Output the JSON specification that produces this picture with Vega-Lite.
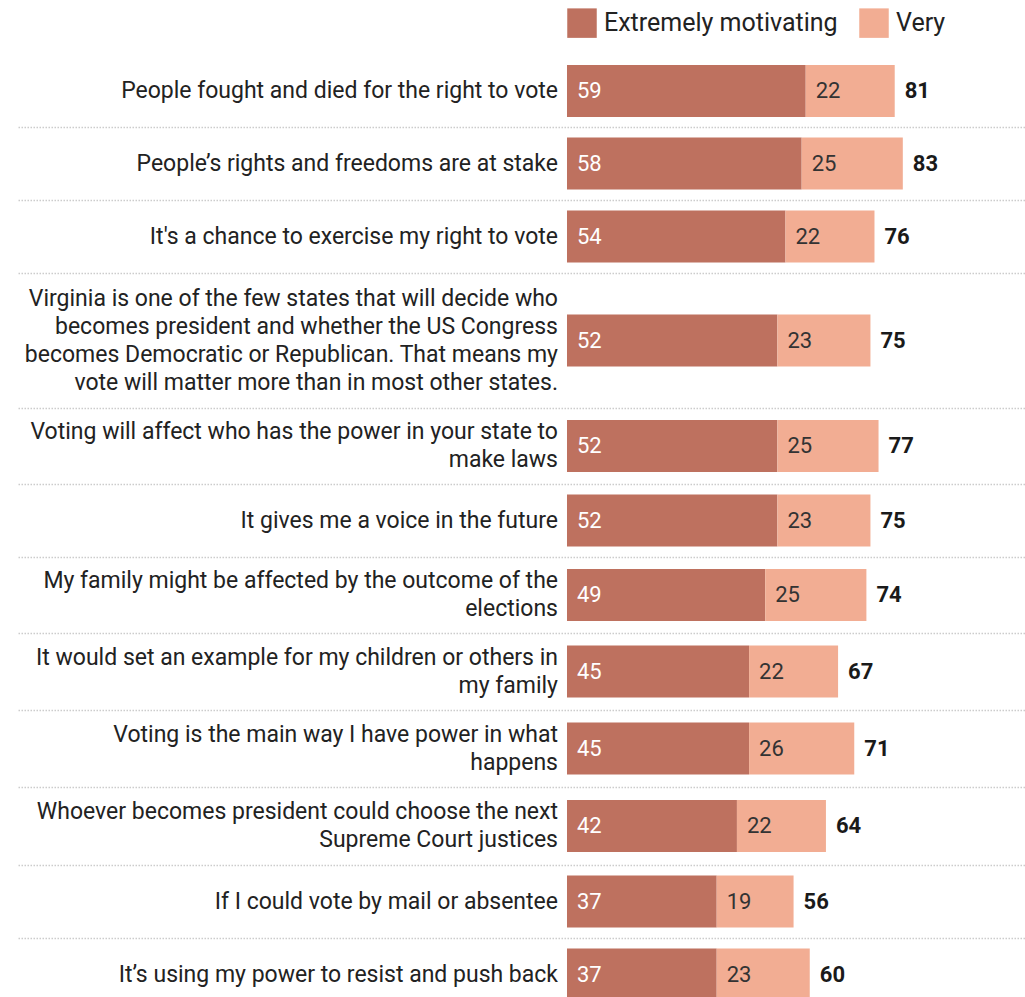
{
  "$schema": "https://vega.github.io/schema/vega-lite/v6.json",
  "padding": {"top": 8, "left": 18, "right": 0, "bottom": 0},
  "background": "white",
  "config": {
    "font": "Roboto",
    "view": {"stroke": null},
    "axisX": {"domainDash": [1.5, 1.5], "domainColor": "#cccccc", "domainWidth": 1.5, "labels": false, "ticks": false, "grid": false},
    "text": {"font": "Roboto", "fontSize": 22, "baseline": "middle"}
  },
  "data": {"values": [
    {"row": 1, "label": "People fought and died for the right to vote", "extreme": 59, "very": 22, "total": 81},
    {"row": 2, "label": "People’s rights and freedoms are at stake", "extreme": 58, "very": 25, "total": 83},
    {"row": 3, "label": "It's a chance to exercise my right to vote", "extreme": 54, "very": 22, "total": 76},
    {"row": 4, "label": "Virginia is one of the few states that will decide who|becomes president and whether the US Congress|becomes Democratic or Republican. That means my|vote will matter more than in most other states.", "extreme": 52, "very": 23, "total": 75},
    {"row": 5, "label": "Voting will affect who has the power in your state to|make laws", "extreme": 52, "very": 25, "total": 77},
    {"row": 6, "label": "It gives me a voice in the future", "extreme": 52, "very": 23, "total": 75},
    {"row": 7, "label": "My family might be affected by the outcome of the|elections", "extreme": 49, "very": 25, "total": 74},
    {"row": 8, "label": "It would set an example for my children or others in|my family", "extreme": 45, "very": 22, "total": 67},
    {"row": 9, "label": "Voting is the main way I have power in what|happens", "extreme": 45, "very": 26, "total": 71},
    {"row": 10, "label": "Whoever becomes president could choose the next|Supreme Court justices", "extreme": 42, "very": 22, "total": 64},
    {"row": 11, "label": "If I could vote by mail or absentee", "extreme": 37, "very": 19, "total": 56},
    {"row": 12, "label": "It’s using my power to resist and push back", "extreme": 37, "very": 23, "total": 60}
  ]},
  "vconcat": [
    {"width": 1007, "height": 72, "transform": [{"filter": "datum.row == 1"}], "layer": [
      {"transform": [{"fold": ["extreme", "very"], "as": ["cat", "value"]}], "mark": {"type": "bar", "height": 52},
       "encoding": {"y": {"field": "label", "type": "nominal", "axis": null}, "x": {"field": "value", "type": "quantitative", "stack": "zero", "scale": {"domain": [-135.69, 113.2], "nice": false}, "axis": {"title": null}}, "order": {"field": "cat"},
        "color": {"field": "cat", "type": "nominal", "scale": {"domain": ["extreme", "very"], "range": ["#BE715F", "#F2AD93"]},
          "legend": {"orient": "none", "legendX": 549, "legendY": -47, "direction": "horizontal", "title": null, "symbolType": "square", "symbolSize": 870, "symbolStrokeWidth": 0, "symbolOpacity": 1, "labelFontSize": 25, "labelColor": "#222", "labelOffset": 7, "columnPadding": 21, "labelLimit": 400, "labelExpr": "datum.value == 'extreme' ? 'Extremely motivating' : 'Very'"}}}},
      {"mark": {"type": "text", "align": "right", "dx": -9, "dy": 0, "fontSize": 23, "lineBreak": "|", "lineHeight": 28, "color": "#222"}, "encoding": {"y": {"field": "label", "type": "nominal", "axis": null}, "x": {"datum": 0, "type": "quantitative", "axis": {"title": null}}, "text": {"field": "label"}}},
      {"mark": {"type": "text", "align": "left", "dx": 10, "color": "white"}, "encoding": {"y": {"field": "label", "type": "nominal", "axis": null}, "x": {"datum": 0, "type": "quantitative", "axis": {"title": null}}, "text": {"field": "extreme"}}},
      {"mark": {"type": "text", "align": "left", "dx": 10, "color": "#333"}, "encoding": {"y": {"field": "label", "type": "nominal", "axis": null}, "x": {"field": "extreme", "type": "quantitative", "axis": {"title": null}}, "text": {"field": "very"}}},
      {"mark": {"type": "text", "align": "left", "dx": 10, "color": "#1a1a1a", "fontWeight": "bold"}, "encoding": {"y": {"field": "label", "type": "nominal", "axis": null}, "x": {"field": "total", "type": "quantitative", "axis": {"title": null}}, "text": {"field": "total"}}}
    ]},
    {"width": 1007, "height": 73, "transform": [{"filter": "datum.row == 2"}], "layer": [
      {"transform": [{"fold": ["extreme", "very"], "as": ["cat", "value"]}], "mark": {"type": "bar", "height": 52},
       "encoding": {"y": {"field": "label", "type": "nominal", "axis": null}, "x": {"field": "value", "type": "quantitative", "stack": "zero", "scale": {"domain": [-135.69, 113.2], "nice": false}, "axis": {"title": null}}, "order": {"field": "cat"},
        "color": {"field": "cat", "type": "nominal", "scale": {"domain": ["extreme", "very"], "range": ["#BE715F", "#F2AD93"]}, "legend": null}}},
      {"mark": {"type": "text", "align": "right", "dx": -9, "dy": 0, "fontSize": 23, "lineBreak": "|", "lineHeight": 28, "color": "#222"}, "encoding": {"y": {"field": "label", "type": "nominal", "axis": null}, "x": {"datum": 0, "type": "quantitative", "axis": {"title": null}}, "text": {"field": "label"}}},
      {"mark": {"type": "text", "align": "left", "dx": 10, "color": "white"}, "encoding": {"y": {"field": "label", "type": "nominal", "axis": null}, "x": {"datum": 0, "type": "quantitative", "axis": {"title": null}}, "text": {"field": "extreme"}}},
      {"mark": {"type": "text", "align": "left", "dx": 10, "color": "#333"}, "encoding": {"y": {"field": "label", "type": "nominal", "axis": null}, "x": {"field": "extreme", "type": "quantitative", "axis": {"title": null}}, "text": {"field": "very"}}},
      {"mark": {"type": "text", "align": "left", "dx": 10, "color": "#1a1a1a", "fontWeight": "bold"}, "encoding": {"y": {"field": "label", "type": "nominal", "axis": null}, "x": {"field": "total", "type": "quantitative", "axis": {"title": null}}, "text": {"field": "total"}}}
    ]},
    {"width": 1007, "height": 73, "transform": [{"filter": "datum.row == 3"}], "layer": [
      {"transform": [{"fold": ["extreme", "very"], "as": ["cat", "value"]}], "mark": {"type": "bar", "height": 52},
       "encoding": {"y": {"field": "label", "type": "nominal", "axis": null}, "x": {"field": "value", "type": "quantitative", "stack": "zero", "scale": {"domain": [-135.69, 113.2], "nice": false}, "axis": {"title": null}}, "order": {"field": "cat"},
        "color": {"field": "cat", "type": "nominal", "scale": {"domain": ["extreme", "very"], "range": ["#BE715F", "#F2AD93"]}, "legend": null}}},
      {"mark": {"type": "text", "align": "right", "dx": -9, "dy": 0, "fontSize": 23, "lineBreak": "|", "lineHeight": 28, "color": "#222"}, "encoding": {"y": {"field": "label", "type": "nominal", "axis": null}, "x": {"datum": 0, "type": "quantitative", "axis": {"title": null}}, "text": {"field": "label"}}},
      {"mark": {"type": "text", "align": "left", "dx": 10, "color": "white"}, "encoding": {"y": {"field": "label", "type": "nominal", "axis": null}, "x": {"datum": 0, "type": "quantitative", "axis": {"title": null}}, "text": {"field": "extreme"}}},
      {"mark": {"type": "text", "align": "left", "dx": 10, "color": "#333"}, "encoding": {"y": {"field": "label", "type": "nominal", "axis": null}, "x": {"field": "extreme", "type": "quantitative", "axis": {"title": null}}, "text": {"field": "very"}}},
      {"mark": {"type": "text", "align": "left", "dx": 10, "color": "#1a1a1a", "fontWeight": "bold"}, "encoding": {"y": {"field": "label", "type": "nominal", "axis": null}, "x": {"field": "total", "type": "quantitative", "axis": {"title": null}}, "text": {"field": "total"}}}
    ]},
    {"width": 1007, "height": 135, "transform": [{"filter": "datum.row == 4"}], "layer": [
      {"transform": [{"fold": ["extreme", "very"], "as": ["cat", "value"]}], "mark": {"type": "bar", "height": 52},
       "encoding": {"y": {"field": "label", "type": "nominal", "axis": null}, "x": {"field": "value", "type": "quantitative", "stack": "zero", "scale": {"domain": [-135.69, 113.2], "nice": false}, "axis": {"title": null}}, "order": {"field": "cat"},
        "color": {"field": "cat", "type": "nominal", "scale": {"domain": ["extreme", "very"], "range": ["#BE715F", "#F2AD93"]}, "legend": null}}},
      {"mark": {"type": "text", "align": "right", "dx": -9, "dy": -42, "fontSize": 23, "lineBreak": "|", "lineHeight": 28, "color": "#222"}, "encoding": {"y": {"field": "label", "type": "nominal", "axis": null}, "x": {"datum": 0, "type": "quantitative", "axis": {"title": null}}, "text": {"field": "label"}}},
      {"mark": {"type": "text", "align": "left", "dx": 10, "color": "white"}, "encoding": {"y": {"field": "label", "type": "nominal", "axis": null}, "x": {"datum": 0, "type": "quantitative", "axis": {"title": null}}, "text": {"field": "extreme"}}},
      {"mark": {"type": "text", "align": "left", "dx": 10, "color": "#333"}, "encoding": {"y": {"field": "label", "type": "nominal", "axis": null}, "x": {"field": "extreme", "type": "quantitative", "axis": {"title": null}}, "text": {"field": "very"}}},
      {"mark": {"type": "text", "align": "left", "dx": 10, "color": "#1a1a1a", "fontWeight": "bold"}, "encoding": {"y": {"field": "label", "type": "nominal", "axis": null}, "x": {"field": "total", "type": "quantitative", "axis": {"title": null}}, "text": {"field": "total"}}}
    ]},
    {"width": 1007, "height": 76, "transform": [{"filter": "datum.row == 5"}], "layer": [
      {"transform": [{"fold": ["extreme", "very"], "as": ["cat", "value"]}], "mark": {"type": "bar", "height": 52},
       "encoding": {"y": {"field": "label", "type": "nominal", "axis": null}, "x": {"field": "value", "type": "quantitative", "stack": "zero", "scale": {"domain": [-135.69, 113.2], "nice": false}, "axis": {"title": null}}, "order": {"field": "cat"},
        "color": {"field": "cat", "type": "nominal", "scale": {"domain": ["extreme", "very"], "range": ["#BE715F", "#F2AD93"]}, "legend": null}}},
      {"mark": {"type": "text", "align": "right", "dx": -9, "dy": -14, "fontSize": 23, "lineBreak": "|", "lineHeight": 28, "color": "#222"}, "encoding": {"y": {"field": "label", "type": "nominal", "axis": null}, "x": {"datum": 0, "type": "quantitative", "axis": {"title": null}}, "text": {"field": "label"}}},
      {"mark": {"type": "text", "align": "left", "dx": 10, "color": "white"}, "encoding": {"y": {"field": "label", "type": "nominal", "axis": null}, "x": {"datum": 0, "type": "quantitative", "axis": {"title": null}}, "text": {"field": "extreme"}}},
      {"mark": {"type": "text", "align": "left", "dx": 10, "color": "#333"}, "encoding": {"y": {"field": "label", "type": "nominal", "axis": null}, "x": {"field": "extreme", "type": "quantitative", "axis": {"title": null}}, "text": {"field": "very"}}},
      {"mark": {"type": "text", "align": "left", "dx": 10, "color": "#1a1a1a", "fontWeight": "bold"}, "encoding": {"y": {"field": "label", "type": "nominal", "axis": null}, "x": {"field": "total", "type": "quantitative", "axis": {"title": null}}, "text": {"field": "total"}}}
    ]},
    {"width": 1007, "height": 73, "transform": [{"filter": "datum.row == 6"}], "layer": [
      {"transform": [{"fold": ["extreme", "very"], "as": ["cat", "value"]}], "mark": {"type": "bar", "height": 52},
       "encoding": {"y": {"field": "label", "type": "nominal", "axis": null}, "x": {"field": "value", "type": "quantitative", "stack": "zero", "scale": {"domain": [-135.69, 113.2], "nice": false}, "axis": {"title": null}}, "order": {"field": "cat"},
        "color": {"field": "cat", "type": "nominal", "scale": {"domain": ["extreme", "very"], "range": ["#BE715F", "#F2AD93"]}, "legend": null}}},
      {"mark": {"type": "text", "align": "right", "dx": -9, "dy": 0, "fontSize": 23, "lineBreak": "|", "lineHeight": 28, "color": "#222"}, "encoding": {"y": {"field": "label", "type": "nominal", "axis": null}, "x": {"datum": 0, "type": "quantitative", "axis": {"title": null}}, "text": {"field": "label"}}},
      {"mark": {"type": "text", "align": "left", "dx": 10, "color": "white"}, "encoding": {"y": {"field": "label", "type": "nominal", "axis": null}, "x": {"datum": 0, "type": "quantitative", "axis": {"title": null}}, "text": {"field": "extreme"}}},
      {"mark": {"type": "text", "align": "left", "dx": 10, "color": "#333"}, "encoding": {"y": {"field": "label", "type": "nominal", "axis": null}, "x": {"field": "extreme", "type": "quantitative", "axis": {"title": null}}, "text": {"field": "very"}}},
      {"mark": {"type": "text", "align": "left", "dx": 10, "color": "#1a1a1a", "fontWeight": "bold"}, "encoding": {"y": {"field": "label", "type": "nominal", "axis": null}, "x": {"field": "total", "type": "quantitative", "axis": {"title": null}}, "text": {"field": "total"}}}
    ]},
    {"width": 1007, "height": 76, "transform": [{"filter": "datum.row == 7"}], "layer": [
      {"transform": [{"fold": ["extreme", "very"], "as": ["cat", "value"]}], "mark": {"type": "bar", "height": 52},
       "encoding": {"y": {"field": "label", "type": "nominal", "axis": null}, "x": {"field": "value", "type": "quantitative", "stack": "zero", "scale": {"domain": [-135.69, 113.2], "nice": false}, "axis": {"title": null}}, "order": {"field": "cat"},
        "color": {"field": "cat", "type": "nominal", "scale": {"domain": ["extreme", "very"], "range": ["#BE715F", "#F2AD93"]}, "legend": null}}},
      {"mark": {"type": "text", "align": "right", "dx": -9, "dy": -14, "fontSize": 23, "lineBreak": "|", "lineHeight": 28, "color": "#222"}, "encoding": {"y": {"field": "label", "type": "nominal", "axis": null}, "x": {"datum": 0, "type": "quantitative", "axis": {"title": null}}, "text": {"field": "label"}}},
      {"mark": {"type": "text", "align": "left", "dx": 10, "color": "white"}, "encoding": {"y": {"field": "label", "type": "nominal", "axis": null}, "x": {"datum": 0, "type": "quantitative", "axis": {"title": null}}, "text": {"field": "extreme"}}},
      {"mark": {"type": "text", "align": "left", "dx": 10, "color": "#333"}, "encoding": {"y": {"field": "label", "type": "nominal", "axis": null}, "x": {"field": "extreme", "type": "quantitative", "axis": {"title": null}}, "text": {"field": "very"}}},
      {"mark": {"type": "text", "align": "left", "dx": 10, "color": "#1a1a1a", "fontWeight": "bold"}, "encoding": {"y": {"field": "label", "type": "nominal", "axis": null}, "x": {"field": "total", "type": "quantitative", "axis": {"title": null}}, "text": {"field": "total"}}}
    ]},
    {"width": 1007, "height": 77, "transform": [{"filter": "datum.row == 8"}], "layer": [
      {"transform": [{"fold": ["extreme", "very"], "as": ["cat", "value"]}], "mark": {"type": "bar", "height": 52},
       "encoding": {"y": {"field": "label", "type": "nominal", "axis": null}, "x": {"field": "value", "type": "quantitative", "stack": "zero", "scale": {"domain": [-135.69, 113.2], "nice": false}, "axis": {"title": null}}, "order": {"field": "cat"},
        "color": {"field": "cat", "type": "nominal", "scale": {"domain": ["extreme", "very"], "range": ["#BE715F", "#F2AD93"]}, "legend": null}}},
      {"mark": {"type": "text", "align": "right", "dx": -9, "dy": -14, "fontSize": 23, "lineBreak": "|", "lineHeight": 28, "color": "#222"}, "encoding": {"y": {"field": "label", "type": "nominal", "axis": null}, "x": {"datum": 0, "type": "quantitative", "axis": {"title": null}}, "text": {"field": "label"}}},
      {"mark": {"type": "text", "align": "left", "dx": 10, "color": "white"}, "encoding": {"y": {"field": "label", "type": "nominal", "axis": null}, "x": {"datum": 0, "type": "quantitative", "axis": {"title": null}}, "text": {"field": "extreme"}}},
      {"mark": {"type": "text", "align": "left", "dx": 10, "color": "#333"}, "encoding": {"y": {"field": "label", "type": "nominal", "axis": null}, "x": {"field": "extreme", "type": "quantitative", "axis": {"title": null}}, "text": {"field": "very"}}},
      {"mark": {"type": "text", "align": "left", "dx": 10, "color": "#1a1a1a", "fontWeight": "bold"}, "encoding": {"y": {"field": "label", "type": "nominal", "axis": null}, "x": {"field": "total", "type": "quantitative", "axis": {"title": null}}, "text": {"field": "total"}}}
    ]},
    {"width": 1007, "height": 77, "transform": [{"filter": "datum.row == 9"}], "layer": [
      {"transform": [{"fold": ["extreme", "very"], "as": ["cat", "value"]}], "mark": {"type": "bar", "height": 52},
       "encoding": {"y": {"field": "label", "type": "nominal", "axis": null}, "x": {"field": "value", "type": "quantitative", "stack": "zero", "scale": {"domain": [-135.69, 113.2], "nice": false}, "axis": {"title": null}}, "order": {"field": "cat"},
        "color": {"field": "cat", "type": "nominal", "scale": {"domain": ["extreme", "very"], "range": ["#BE715F", "#F2AD93"]}, "legend": null}}},
      {"mark": {"type": "text", "align": "right", "dx": -9, "dy": -14, "fontSize": 23, "lineBreak": "|", "lineHeight": 28, "color": "#222"}, "encoding": {"y": {"field": "label", "type": "nominal", "axis": null}, "x": {"datum": 0, "type": "quantitative", "axis": {"title": null}}, "text": {"field": "label"}}},
      {"mark": {"type": "text", "align": "left", "dx": 10, "color": "white"}, "encoding": {"y": {"field": "label", "type": "nominal", "axis": null}, "x": {"datum": 0, "type": "quantitative", "axis": {"title": null}}, "text": {"field": "extreme"}}},
      {"mark": {"type": "text", "align": "left", "dx": 10, "color": "#333"}, "encoding": {"y": {"field": "label", "type": "nominal", "axis": null}, "x": {"field": "extreme", "type": "quantitative", "axis": {"title": null}}, "text": {"field": "very"}}},
      {"mark": {"type": "text", "align": "left", "dx": 10, "color": "#1a1a1a", "fontWeight": "bold"}, "encoding": {"y": {"field": "label", "type": "nominal", "axis": null}, "x": {"field": "total", "type": "quantitative", "axis": {"title": null}}, "text": {"field": "total"}}}
    ]},
    {"width": 1007, "height": 78, "transform": [{"filter": "datum.row == 10"}], "layer": [
      {"transform": [{"fold": ["extreme", "very"], "as": ["cat", "value"]}], "mark": {"type": "bar", "height": 52},
       "encoding": {"y": {"field": "label", "type": "nominal", "axis": null}, "x": {"field": "value", "type": "quantitative", "stack": "zero", "scale": {"domain": [-135.69, 113.2], "nice": false}, "axis": {"title": null}}, "order": {"field": "cat"},
        "color": {"field": "cat", "type": "nominal", "scale": {"domain": ["extreme", "very"], "range": ["#BE715F", "#F2AD93"]}, "legend": null}}},
      {"mark": {"type": "text", "align": "right", "dx": -9, "dy": -14, "fontSize": 23, "lineBreak": "|", "lineHeight": 28, "color": "#222"}, "encoding": {"y": {"field": "label", "type": "nominal", "axis": null}, "x": {"datum": 0, "type": "quantitative", "axis": {"title": null}}, "text": {"field": "label"}}},
      {"mark": {"type": "text", "align": "left", "dx": 10, "color": "white"}, "encoding": {"y": {"field": "label", "type": "nominal", "axis": null}, "x": {"datum": 0, "type": "quantitative", "axis": {"title": null}}, "text": {"field": "extreme"}}},
      {"mark": {"type": "text", "align": "left", "dx": 10, "color": "#333"}, "encoding": {"y": {"field": "label", "type": "nominal", "axis": null}, "x": {"field": "extreme", "type": "quantitative", "axis": {"title": null}}, "text": {"field": "very"}}},
      {"mark": {"type": "text", "align": "left", "dx": 10, "color": "#1a1a1a", "fontWeight": "bold"}, "encoding": {"y": {"field": "label", "type": "nominal", "axis": null}, "x": {"field": "total", "type": "quantitative", "axis": {"title": null}}, "text": {"field": "total"}}}
    ]},
    {"width": 1007, "height": 73, "transform": [{"filter": "datum.row == 11"}], "layer": [
      {"transform": [{"fold": ["extreme", "very"], "as": ["cat", "value"]}], "mark": {"type": "bar", "height": 52},
       "encoding": {"y": {"field": "label", "type": "nominal", "axis": null}, "x": {"field": "value", "type": "quantitative", "stack": "zero", "scale": {"domain": [-135.69, 113.2], "nice": false}, "axis": {"title": null}}, "order": {"field": "cat"},
        "color": {"field": "cat", "type": "nominal", "scale": {"domain": ["extreme", "very"], "range": ["#BE715F", "#F2AD93"]}, "legend": null}}},
      {"mark": {"type": "text", "align": "right", "dx": -9, "dy": 0, "fontSize": 23, "lineBreak": "|", "lineHeight": 28, "color": "#222"}, "encoding": {"y": {"field": "label", "type": "nominal", "axis": null}, "x": {"datum": 0, "type": "quantitative", "axis": {"title": null}}, "text": {"field": "label"}}},
      {"mark": {"type": "text", "align": "left", "dx": 10, "color": "white"}, "encoding": {"y": {"field": "label", "type": "nominal", "axis": null}, "x": {"datum": 0, "type": "quantitative", "axis": {"title": null}}, "text": {"field": "extreme"}}},
      {"mark": {"type": "text", "align": "left", "dx": 10, "color": "#333"}, "encoding": {"y": {"field": "label", "type": "nominal", "axis": null}, "x": {"field": "extreme", "type": "quantitative", "axis": {"title": null}}, "text": {"field": "very"}}},
      {"mark": {"type": "text", "align": "left", "dx": 10, "color": "#1a1a1a", "fontWeight": "bold"}, "encoding": {"y": {"field": "label", "type": "nominal", "axis": null}, "x": {"field": "total", "type": "quantitative", "axis": {"title": null}}, "text": {"field": "total"}}}
    ]},
    {"width": 1007, "height": 73, "transform": [{"filter": "datum.row == 12"}], "layer": [
      {"transform": [{"fold": ["extreme", "very"], "as": ["cat", "value"]}], "mark": {"type": "bar", "height": 52},
       "encoding": {"y": {"field": "label", "type": "nominal", "axis": null}, "x": {"field": "value", "type": "quantitative", "stack": "zero", "scale": {"domain": [-135.69, 113.2], "nice": false}, "axis": null}, "order": {"field": "cat"},
        "color": {"field": "cat", "type": "nominal", "scale": {"domain": ["extreme", "very"], "range": ["#BE715F", "#F2AD93"]}, "legend": null}}},
      {"mark": {"type": "text", "align": "right", "dx": -9, "dy": 0, "fontSize": 23, "lineBreak": "|", "lineHeight": 28, "color": "#222"}, "encoding": {"y": {"field": "label", "type": "nominal", "axis": null}, "x": {"datum": 0, "type": "quantitative", "axis": null}, "text": {"field": "label"}}},
      {"mark": {"type": "text", "align": "left", "dx": 10, "color": "white"}, "encoding": {"y": {"field": "label", "type": "nominal", "axis": null}, "x": {"datum": 0, "type": "quantitative", "axis": null}, "text": {"field": "extreme"}}},
      {"mark": {"type": "text", "align": "left", "dx": 10, "color": "#333"}, "encoding": {"y": {"field": "label", "type": "nominal", "axis": null}, "x": {"field": "extreme", "type": "quantitative", "axis": null}, "text": {"field": "very"}}},
      {"mark": {"type": "text", "align": "left", "dx": 10, "color": "#1a1a1a", "fontWeight": "bold"}, "encoding": {"y": {"field": "label", "type": "nominal", "axis": null}, "x": {"field": "total", "type": "quantitative", "axis": null}, "text": {"field": "total"}}}
    ]}
  ],
  "spacing": 0,
  "bounds": "flush",
  "resolve": {"scale": {"x": "independent", "y": "independent", "color": "independent"}, "legend": {"color": "independent"}, "axis": {"x": "independent"}}
}
